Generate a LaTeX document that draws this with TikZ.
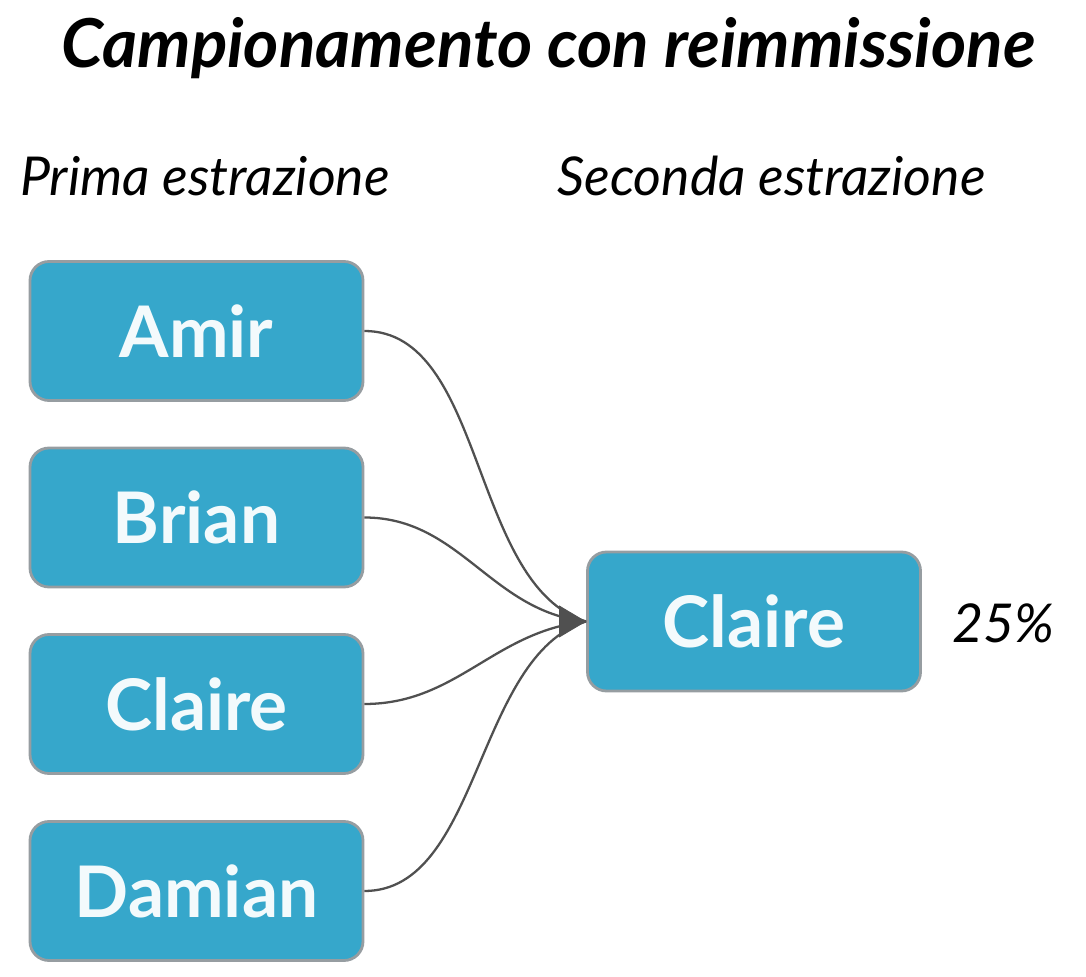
\documentclass[tikz,border=0pt]{standalone}
\usepackage{fontspec}
\setmainfont{Lato}
\usepackage{xcolor}
\usetikzlibrary{arrows.meta}
\definecolor{boxblue}{HTML}{36A7CB}
\definecolor{boxedge}{HTML}{969DA1}
\definecolor{linkgrey}{HTML}{505050}
\tikzset{
  name box/.style={
    draw=boxedge,fill=boxblue,line width=1.6pt,rounded corners=0.38cm,
    minimum width=6.66cm,minimum height=2.78cm,inner sep=0pt,
    text=white!94!boxblue,font=\fontsize{40.5}{44}\selectfont\bfseries
  },
  head text/.style={font=\fontsize{30.5}{34}\selectfont\itshape,inner sep=0pt},
  link/.style={draw=linkgrey,line width=1.3pt}
}
\begin{document}
\begin{tikzpicture}
    \useasboundingbox (0,0) rectangle (21.72,19.52);
    \node [font=\fontsize{38.4}{44}\selectfont\bfseries\itshape,inner sep=0pt] (title) at (10.97,18.56) {Campionamento con reimmissione};
    \node [head text] (first) at (4.1,16) {Prima estrazione};
    \node [head text] (second) at (15.43,16) {Seconda estrazione};
    \begin{scope}[every node/.style={name box}]
        \node (amir) at (3.93,12.9) {Amir};
        \node (brian) at (3.93,9.17) {Brian};
        \node (claire) at (3.93,5.44) {Claire};
        \node (damian) at (3.93,1.7) {Damian};
        \node (drawn) at (15.08,7.09) {Claire};
    \end{scope}
    \node [head text] (share) at (20.07,7.05) {25\%};
    \coordinate (join) at (11.2,7.09);
    \path [link] (amir.east) to[out=0,in=163,looseness=0.85] (drawn.west);
    \path [link] (brian.east) to[out=0,in=174] (drawn.west);
    \path [link] (claire.east) to[out=0,in=186] (drawn.west);
    \path [link] (damian.east) to[out=0,in=197,looseness=0.85] (drawn.west);
    \begin{scope}[>={Triangle[length=0.54cm,width=0.64cm,fill=linkgrey]}]
        \path [draw=linkgrey,line width=0.4pt,->] (join) -- (drawn.west);
    \end{scope}
\end{tikzpicture}
\end{document}
